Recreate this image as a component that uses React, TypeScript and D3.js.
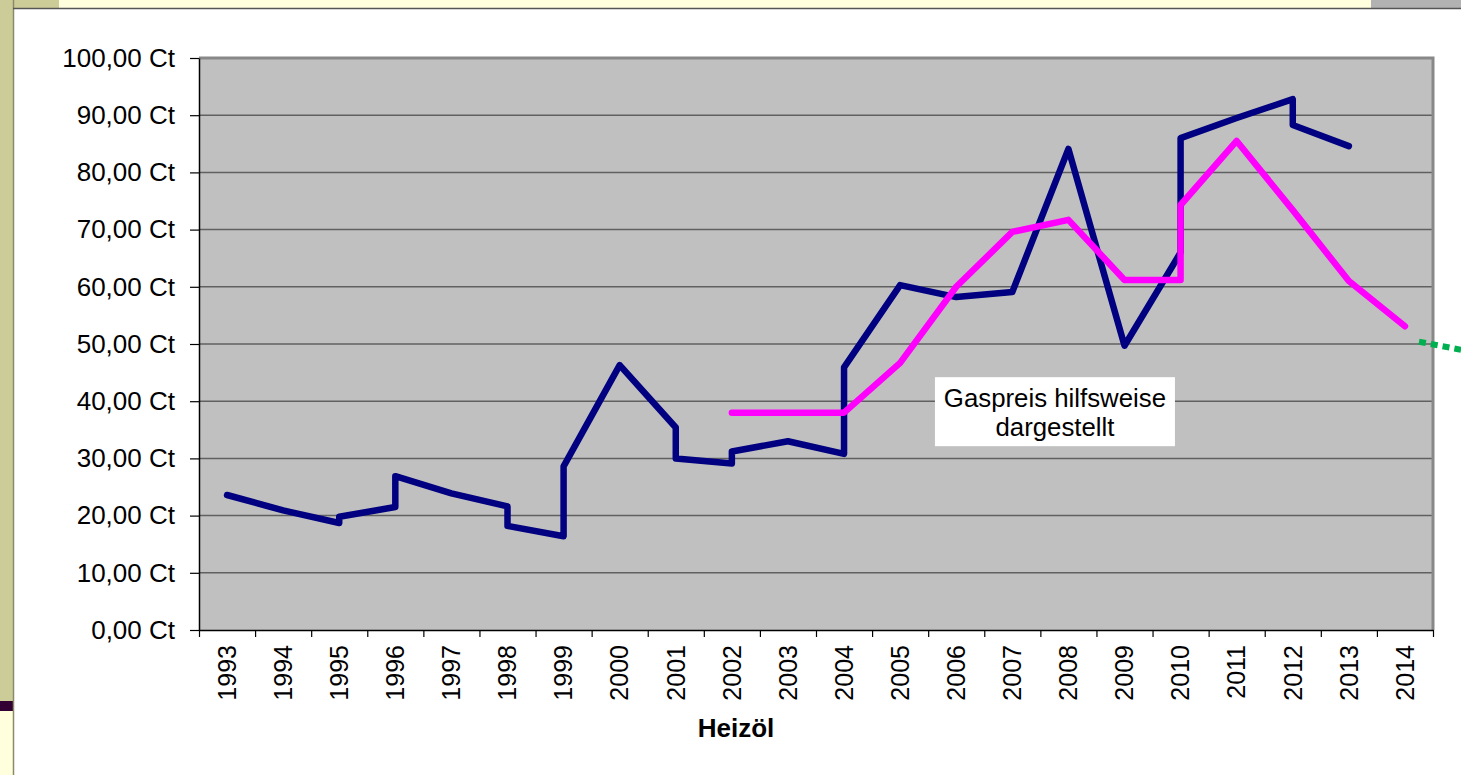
import { axisBottom, axisLeft, line, range, scaleLinear, select } from 'd3';
import React, { useEffect, useRef } from 'react';

// DATA
const years = range(1993, 2015);
const yTicks = range(0, 101, 10);

// Heizöl: years appear twice where the price jumps within a year
const heizoelYears = [1993, 1994, 1995, 1995, 1996, 1996, 1997, 1998, 1998, 1999, 1999, 2000, 2001, 2001, 2002, 2002, 2003, 2004, 2004, 2005, 2006, 2007, 2008, 2009, 2010, 2010, 2011, 2012, 2012, 2013];
const heizoelValues = [23.6, 20.9, 18.7, 19.8, 21.5, 26.9, 23.9, 21.6, 18.2, 16.4, 28.6, 46.3, 35.4, 30.0, 29.1, 31.2, 33.0, 30.8, 45.9, 60.3, 58.2, 59.1, 84.1, 49.7, 66.0, 86.0, 89.5, 92.8, 88.3, 84.6];

const gasYears = [2002, 2003, 2004, 2005, 2006, 2007, 2008, 2009, 2010, 2010, 2011, 2012, 2013, 2014];
const gasValues = [38.0, 38.0, 38.0, 46.7, 60.0, 69.6, 71.7, 61.2, 61.2, 74.3, 85.5, 73.4, 61.0, 53.1];

const trendYears = [2014.25, 2015];
const trendValues = [50.4, 49.0];

const annotationLines = ['Gaspreis hilfsweise', 'dargestellt'];
const xTitle = 'Heizöl';

const W = 1461;
const H = 775;
const FONT = '"Liberation Sans", Arial, sans-serif';

const formatCt = (v: number) => v.toFixed(2).replace('.', ',') + ' Ct';

export default function App() {
	const ref = useRef<SVGSVGElement>(null);

	const margin = { left: 199, right: 28, top: 58, bottom: 145 };
	const x = scaleLinear()
		.domain([1992.5, 2014.5])
		.range([margin.left, W - margin.right]);
	const y = scaleLinear()
		.domain([0, 100])
		.range([H - margin.bottom, margin.top]);

	useEffect(() => {
		const svg = select(ref.current);
		svg.selectAll('*').remove();

		// page frame
		svg.append('rect').attr('width', W).attr('height', H).attr('fill', '#ffffff');
		svg.append('rect').attr('x', 0).attr('y', 0).attr('width', 13).attr('height', 701).attr('fill', '#cccc99');
		svg.append('rect').attr('x', 0).attr('y', 701).attr('width', 13).attr('height', 10).attr('fill', '#330033');
		svg.append('rect').attr('x', 0).attr('y', 711).attr('width', 13).attr('height', 64).attr('fill', '#ffffdd');
		svg.append('rect').attr('x', 13).attr('y', 0).attr('width', 46).attr('height', 8).attr('fill', '#cccc99');
		svg.append('rect').attr('x', 59).attr('y', 0).attr('width', 1312).attr('height', 8).attr('fill', '#ffffdd');
		svg.append('rect').attr('x', 1371).attr('y', 0).attr('width', 90).attr('height', 8).attr('fill', '#b2b2b2');
		svg.append('line').attr('x1', 13.5).attr('x2', 13.5).attr('y1', 0).attr('y2', H)
			.attr('stroke', '#8a8a6a').attr('stroke-width', 1.5);
		svg.append('line').attr('x1', 13).attr('x2', W).attr('y1', 8.5).attr('y2', 8.5)
			.attr('stroke', '#555555').attr('stroke-width', 1.5);

		// plot area
		const [x0, x1] = x.range();
		const [yb, yt] = y.range();
		svg.append('rect')
			.attr('x', x0).attr('y', yt)
			.attr('width', x1 - x0).attr('height', yb - yt)
			.attr('fill', '#c0c0c0');

		svg.append('g')
			.selectAll('line')
			.data(yTicks.filter(d => d > 0 && d < 100))
			.join('line')
			.attr('x1', x0).attr('x2', x1)
			.attr('y1', d => y(d)).attr('y2', d => y(d))
			.attr('stroke', '#606060')
			.attr('stroke-width', 1.5);

		// top and right border (grey), left and bottom axis (black)
		svg.append('path')
			.attr('d', `M${x0},${yt}H${x1}V${yb}`)
			.attr('fill', 'none')
			.attr('stroke', '#888888')
			.attr('stroke-width', 3);

		const yAxis = svg.append('g')
			.attr('transform', `translate(${x0},0)`)
			.call(axisLeft(y).tickValues(yTicks).tickSize(9).tickSizeOuter(0).tickPadding(15).tickFormat(d => formatCt(+d)));
		yAxis.select('.domain').attr('stroke', '#000').attr('stroke-width', 1.5);
		yAxis.selectAll('.tick line').attr('stroke', '#000').attr('stroke-width', 1.2);
		yAxis.selectAll('text')
			.attr('font-family', FONT)
			.attr('font-size', 26)
			.attr('fill', '#000');

		const xAxis = svg.append('g')
			.attr('transform', `translate(0,${yb})`)
			.call(axisBottom(x).tickValues(range(1992.5, 2015, 1)).tickSize(7).tickSizeOuter(0).tickFormat(() => ''));
		xAxis.select('.domain').attr('stroke', '#000').attr('stroke-width', 1.5);
		xAxis.selectAll('.tick line').attr('stroke', '#000').attr('stroke-width', 1.2);

		svg.append('g')
			.selectAll('text')
			.data(years)
			.join('text')
			.attr('transform', d => `translate(${x(d)},${yb + 15}) rotate(-90)`)
			.attr('dy', '0.35em')
			.attr('text-anchor', 'end')
			.attr('font-family', FONT)
			.attr('font-size', 25)
			.text(d => String(d));

		svg.append('text')
			.attr('x', 736)
			.attr('y', 737)
			.attr('text-anchor', 'middle')
			.attr('font-family', FONT)
			.attr('font-size', 26)
			.attr('font-weight', 'bold')
			.text(xTitle);

		// series
		const path = (xs: number[], vs: number[]) =>
			line<number>().x((_, i) => x(xs[i])).y(d => y(d))(vs);

		svg.append('path')
			.attr('d', path(heizoelYears, heizoelValues))
			.attr('fill', 'none')
			.attr('stroke', '#000080')
			.attr('stroke-width', 6.5)
			.attr('stroke-linejoin', 'round')
			.attr('stroke-linecap', 'round');

		svg.append('path')
			.attr('d', path(gasYears, gasValues))
			.attr('fill', 'none')
			.attr('stroke', '#ff00ff')
			.attr('stroke-width', 6.5)
			.attr('stroke-linejoin', 'round')
			.attr('stroke-linecap', 'round');

		svg.append('path')
			.attr('d', path(trendYears, trendValues))
			.attr('fill', 'none')
			.attr('stroke', '#00b050')
			.attr('stroke-width', 6)
			.attr('stroke-dasharray', '7 5');

		// annotation box
		const ax = x(2007.76);
		const ay = y(44.2);
		const note = svg.append('g').attr('transform', `translate(${ax},${ay})`);
		note.append('rect')
			.attr('x', -120).attr('y', 0)
			.attr('width', 240).attr('height', 69)
			.attr('fill', '#ffffff');
		note.selectAll('text')
			.data(annotationLines)
			.join('text')
			.attr('x', 0)
			.attr('y', (_, i) => 30 + i * 29)
			.attr('text-anchor', 'middle')
			.attr('font-family', FONT)
			.attr('font-size', 25.8)
			.text(d => d);
	}, []);

	return (
		<svg
			ref={ref}
			width={W}
			height={H}
			style={{ position: 'absolute', left: 0, top: 0, display: 'block' }}
		/>
	);
}
